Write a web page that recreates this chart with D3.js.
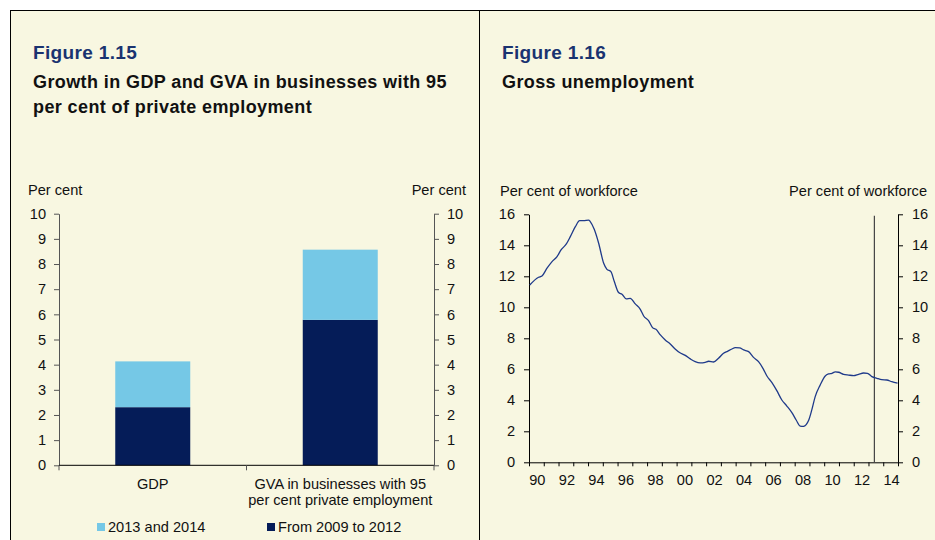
<!DOCTYPE html>
<html>
<head>
<meta charset="utf-8">
<script src="https://cdn.jsdelivr.net/npm/d3@7"></script>
<style>
  body { margin: 0; background: #fff; }
  svg { display: block; font-family: "Liberation Sans", Arial, sans-serif; }
</style>
</head>
<body>
<svg id="chart" width="935" height="540"></svg>
<script>
// Figure 1.15 data
let categories = ["GDP", "GVA in businesses with 95|per cent private employment"];
let earlyGrowth = [2.31, 5.78]; // From 2009 to 2012
let lateGrowth = [1.82, 2.79];  // 2013 and 2014
let seriesNames = ["From 2009 to 2012", "2013 and 2014"];
let barTicks = d3.range(0, 11);

// Figure 1.16 data (year, per cent of workforce)
let unempYears = [1990.05, 1990.65, 1990.88, 1991.22, 1991.56, 1991.9, 1992.17, 1992.53, 1992.8, 1993.14,
  1993.43, 1993.7, 1994.04, 1994.15, 1994.42, 1994.72, 1995.06, 1995.28, 1995.55, 1995.78,
  1996.07, 1996.3, 1996.59, 1996.86, 1997.2, 1997.54, 1997.77, 1998.1, 1998.37, 1998.6,
  1998.9, 1999.23, 1999.57, 1999.9, 2000.2, 2000.59, 2000.93, 2001.26, 2001.6, 2001.94,
  2002.17, 2002.5, 2002.84, 2003.18, 2003.45, 2003.75, 2003.97, 2004.27, 2004.54, 2004.88,
  2005.21, 2005.55, 2005.85, 2006.12, 2006.46, 2006.79, 2007.13, 2007.47, 2007.81, 2008.1,
  2008.37, 2008.6, 2008.78, 2008.94, 2009.16, 2009.39, 2009.73, 2010.07, 2010.29, 2010.52,
  2010.75, 2010.97, 2011.31, 2011.65, 2011.99, 2012.33, 2012.67, 2012.93, 2013.23, 2013.57,
  2013.9, 2014.24, 2014.58, 2014.97];
let unempValues = [11.44, 11.94, 12.02, 12.52, 12.95, 13.27, 13.7, 14.09, 14.56, 15.2,
  15.59, 15.59, 15.63, 15.53, 15.03, 14.13, 12.84, 12.45, 12.3, 11.66,
  10.95, 10.84, 10.54, 10.58, 10.22, 9.87, 9.44, 9.14, 8.69, 8.58,
  8.22, 7.89, 7.63, 7.31, 7.08, 6.9, 6.67, 6.49, 6.41, 6.45,
  6.52, 6.47, 6.71, 7.03, 7.16, 7.31, 7.4, 7.38, 7.25, 7.14,
  6.77, 6.49, 6.06, 5.57, 5.14, 4.62, 4.02, 3.63, 3.2, 2.73,
  2.34, 2.32, 2.43, 2.69, 3.38, 4.24, 4.99, 5.57, 5.7, 5.74,
  5.83, 5.81, 5.68, 5.63, 5.59, 5.68, 5.76, 5.74, 5.53, 5.42,
  5.33, 5.31, 5.2, 5.1];
let forecastStart = 2013.4;
let yearTicks = d3.range(1990, 2016);
let yearLabels = d3.range(1990, 2015, 2);
let unempTicks = d3.range(0, 17, 2);

let labelSize = "14.6px";
let svg = d3.select("#chart");

// Panel background and borders
svg.append("rect").attr("x", 10).attr("y", 10).attr("width", 925).attr("height", 530).attr("fill", "#f8f7e1");
svg.append("line").attr("x1", 10).attr("x2", 935).attr("y1", 10.5).attr("y2", 10.5).attr("stroke", "#000");
svg.append("line").attr("x1", 10.5).attr("x2", 10.5).attr("y1", 10).attr("y2", 540).attr("stroke", "#000");
svg.append("line").attr("x1", 479.5).attr("x2", 479.5).attr("y1", 10).attr("y2", 540).attr("stroke", "#000");

// Titles
function title(x, fig, lines) {
  svg.append("text").attr("x", x).attr("y", 59).attr("fill", "#1a3370")
    .style("font-size", "19px").style("font-weight", "bold").style("letter-spacing", "0.35px").text(fig);
  lines.forEach((t, i) => {
    svg.append("text").attr("x", x).attr("y", 88 + i * 25).attr("fill", "#111")
      .style("font-size", "18px").style("font-weight", "bold").style("letter-spacing", "0.4px").text(t);
  });
}
title(33, "Figure 1.15", ["Growth in GDP and GVA in businesses with 95", "per cent of private employment"]);
title(502, "Figure 1.16", ["Gross unemployment"]);

// ---------- Figure 1.15: stacked bars ----------
let left = { x0: 59, x1: 434, top: 213.7, bottom: 465.3 };

let x = d3.scaleBand().domain(categories).range([left.x0, left.x1]).padding(0);
let y = d3.scaleLinear().domain([0, 10]).range([left.bottom, left.top]);
let barW = x.bandwidth() * 0.4;

let stackData = categories.map((c, i) => ({ cat: c, early: earlyGrowth[i], late: lateGrowth[i] }));
let stack = d3.stack().keys(["early", "late"])(stackData);
let color = d3.scaleOrdinal().domain(["early", "late"]).range(["#051c58", "#75c8e6"]);

svg.append("g").selectAll("g").data(stack).enter().append("g")
  .attr("fill", (d) => color(d.key))
  .selectAll("rect").data((d) => d).enter().append("rect")
  .attr("x", (d) => x(d.data.cat) + (x.bandwidth() - barW) / 2)
  .attr("y", (d) => y(d[1]))
  .attr("height", (d) => y(d[0]) - y(d[1]))
  .attr("width", barW);

function styleAxis(g, col) {
  g.select(".domain").attr("stroke", col);
  g.selectAll(".tick line").attr("stroke", col);
  g.selectAll(".tick text").attr("fill", "#111").style("font-size", labelSize)
    .style("font-family", "Liberation Sans, Arial, sans-serif");
}

svg.append("g").attr("transform", `translate(${left.x0},0)`)
  .call(d3.axisLeft(y).tickValues(barTicks).tickSize(5).tickSizeOuter(0).tickPadding(8))
  .call((g) => styleAxis(g, "#555"));
svg.append("g").attr("transform", `translate(${left.x1},0)`)
  .call(d3.axisRight(y).tickValues(barTicks).tickSize(5).tickSizeOuter(0).tickPadding(8))
  .call((g) => styleAxis(g, "#555"));

// x axis with boundary ticks
let xb = svg.append("g").attr("transform", `translate(0,${left.bottom})`);
xb.append("line").attr("x1", left.x0).attr("x2", left.x1).attr("stroke", "#000");
let bounds = [left.x0, left.x0 + x.bandwidth(), left.x1];
xb.selectAll(".bt").data(bounds).enter().append("line")
  .attr("x1", (d) => d).attr("x2", (d) => d).attr("y1", 0).attr("y2", 5).attr("stroke", "#555");
categories.forEach((c) => {
  let t = xb.append("text").attr("text-anchor", "middle").attr("fill", "#111").style("font-size", labelSize);
  c.split("|").forEach((line, i) => {
    t.append("tspan").attr("x", x(c) + x.bandwidth() / 2).attr("y", 24 + i * 16).text(line);
  });
});

svg.append("text").attr("x", 28).attr("y", 195).attr("fill", "#111").style("font-size", labelSize).text("Per cent");
svg.append("text").attr("x", 466).attr("y", 195).attr("text-anchor", "end").attr("fill", "#111")
  .style("font-size", labelSize).text("Per cent");

// Legend
let legendItems = [
  { key: "late", label: seriesNames[1], x: 97 },
  { key: "early", label: seriesNames[0], x: 267 }
];
let legend = svg.append("g").selectAll("g").data(legendItems).enter().append("g")
  .attr("transform", (d) => `translate(${d.x},523)`);
legend.append("rect").attr("width", 8).attr("height", 8).attr("fill", (d) => color(d.key));
legend.append("text").attr("x", 11).attr("y", 9).attr("fill", "#111").style("font-size", labelSize).text((d) => d.label);

// ---------- Figure 1.16: unemployment line ----------
let right = { x0: 529, x1: 898, top: 214.3, bottom: 462.3 };
let xt = d3.scaleLinear().domain([1990, 2015]).range([right.x0, right.x1]);
let yu = d3.scaleLinear().domain([0, 16]).range([right.bottom, right.top]);

svg.append("g").attr("transform", `translate(${right.x0},0)`)
  .call(d3.axisLeft(yu).tickValues(unempTicks).tickSize(5).tickSizeOuter(0).tickPadding(9))
  .call((g) => styleAxis(g, "#000"));
svg.append("g").attr("transform", `translate(${right.x1},0)`)
  .call(d3.axisRight(yu).tickValues(unempTicks).tickSize(5).tickSizeOuter(0).tickPadding(9))
  .call((g) => styleAxis(g, "#000"));

let xa = svg.append("g").attr("transform", `translate(0,${right.bottom})`)
  .call(d3.axisBottom(xt).tickValues(yearTicks).tickSize(4).tickSizeOuter(0).tickFormat(""))
  .call((g) => styleAxis(g, "#000"));
xa.selectAll(".yl").data(yearLabels).enter().append("text")
  .attr("x", (d) => xt(d + 0.5) + 1).attr("y", 23).attr("text-anchor", "middle")
  .attr("fill", "#111").style("font-size", labelSize)
  .text((d) => String(d % 100).padStart(2, "0"));

// forecast marker
svg.append("line").attr("x1", xt(forecastStart)).attr("x2", xt(forecastStart))
  .attr("y1", yu(0)).attr("y2", yu(15.9)).attr("stroke", "#444").attr("stroke-width", 1.2);

let lineData = unempYears.map((yr, i) => ({ yr: yr, v: unempValues[i] }));
svg.append("path").datum(lineData)
  .attr("fill", "none").attr("stroke", "#1f3a8a").attr("stroke-width", 1.3)
  .attr("d", d3.line().x((d) => xt(d.yr)).y((d) => yu(d.v)).curve(d3.curveMonotoneX));

svg.append("text").attr("x", 500).attr("y", 196).attr("fill", "#111").style("font-size", labelSize)
  .text("Per cent of workforce");
svg.append("text").attr("x", 927).attr("y", 196).attr("text-anchor", "end").attr("fill", "#111")
  .style("font-size", labelSize).text("Per cent of workforce");
</script>
</body>
</html>
